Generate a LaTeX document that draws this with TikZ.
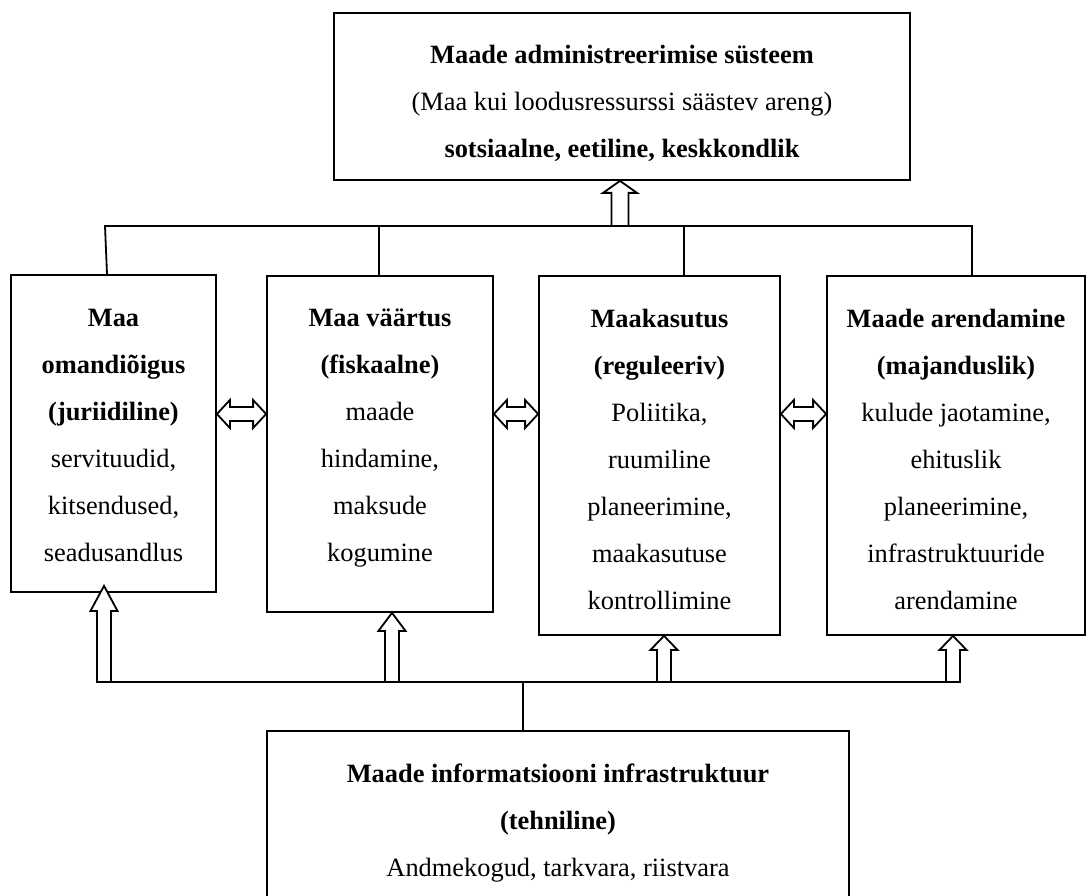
\documentclass[tikz,border=0pt]{standalone}
\usepackage{fontspec}
\setmainfont{Liberation Serif}
\usetikzlibrary{calc}

\tikzset{
  box/.style={draw, line width=1.8pt, inner sep=0pt},
  txt/.style={align=center, inner sep=0pt, font=\fontsize{26.4}{47}\selectfont},
  wire/.style={line width=1.8pt},
  blockarrow/.style={draw, fill=white, line width=1.8pt, line join=miter},
}

% fixed height of the first line and depth of the last line of every text block
\newcommand\firstln{\rule{0pt}{20pt}}
\newcommand\lastln{\rule[-6pt]{0pt}{6pt}}

% hollow upward block arrow: tip, foot, head length, head half width, shaft half width
\newcommand\hollowup[5]{%
  \draw[blockarrow] let \p1=#1, \p2=#2 in
    (\x1,\y1) -- (\x1+#4pt,\y1-#3pt) -- (\x1+#5pt,\y1-#3pt) -- (\x1+#5pt,\y2)
    -- (\x1-#5pt,\y2) -- (\x1-#5pt,\y1-#3pt) -- (\x1-#4pt,\y1-#3pt) -- cycle;}

% hollow two-headed horizontal block arrow: left tip, right tip, head length, head half height, shaft half height
\newcommand\hollowlr[5]{%
  \draw[blockarrow] let \p1=#1, \p2=#2 in
    (\x1,\y1) -- (\x1+#3pt,\y1+#4pt) -- (\x1+#3pt,\y1+#5pt) -- (\x2-#3pt,\y1+#5pt)
    -- (\x2-#3pt,\y1+#4pt) -- (\x2,\y1) -- (\x2-#3pt,\y1-#4pt) -- (\x2-#3pt,\y1-#5pt)
    -- (\x1+#3pt,\y1-#5pt) -- (\x1+#3pt,\y1-#4pt) -- cycle;}

\begin{document}
\begin{tikzpicture}[x=1pt,y=-1pt]
\useasboundingbox (0,0) rectangle (1089,896);
\clip (0,0) rectangle (1089,896);

% frames
\node[box, minimum width=576pt, minimum height=167pt] (sys)  at (622,96.5)  {};
\node[box, minimum width=205pt, minimum height=317pt] (own)  at (113.5,433.5) {};
\node[box, minimum width=226pt, minimum height=336pt] (val)  at (380,444)   {};
\node[box, minimum width=241pt, minimum height=359pt] (use)  at (659.5,455.5) {};
\node[box, minimum width=258pt, minimum height=359pt] (dev)  at (956,455.5) {};
\node[box, minimum width=582pt, minimum height=220pt] (info) at (558,841)   {};

% texts
\node[txt] (sysT) at (622,104) {\firstln\textbf{Maade administreerimise süsteem}\\
  (Maa kui loodusressurssi säästev areng)\\
  \textbf{sotsiaalne, eetiline, keskkondlik}\lastln};
\node[txt] (ownT) at (113.5,436.5) {\firstln\textbf{Maa}\\ \textbf{omandiõigus}\\ \textbf{(juriidiline)}\\
  servituudid,\\ kitsendused,\\ seadusandlus\lastln};
\node[txt] (valT) at (380,436.5) {\firstln\textbf{Maa väärtus}\\ \textbf{(fiskaalne)}\\ maade\\
  hindamine,\\ maksude\\ kogumine\lastln};
\node[txt] (useT) at (659.5,461) {\firstln\textbf{Maakasutus}\\ \textbf{(reguleeriv)}\\ Poliitika,\\
  ruumiline\\ planeerimine,\\ maakasutuse\\ kontrollimine\lastln};
\node[txt] (devT) at (956,461) {\firstln\textbf{Maade arendamine}\\ \textbf{(majanduslik)}\\
  kulude jaotamine,\\ ehituslik\\ planeerimine,\\ infrastruktuuride\\ arendamine\lastln};
\node[txt] (infoT) at (558,822) {\firstln\textbf{Maade informatsiooni infrastruktuur}\\
  \textbf{(tehniline)}\\ Andmekogud, tarkvara, riistvara\lastln};

% upper bus joining the four pillars
\coordinate (busA) at (105,226);
\coordinate (busB) at (379,226);
\coordinate (busC) at (684,226);
\coordinate (busD) at (972,226);
\draw[wire] ($(busA |- own.north)+(2,0)$) -- (busA) -- (busD) -- (busD |- dev.north);
\draw[wire] (busB) -- (busB |- val.north);
\draw[wire] (busC) -- (busC |- use.north);
\coordinate (upTop) at (620,226);
\hollowup{(upTop |- sys.south)}{(upTop)}{12}{17}{8.5}

% lower bus fed by the information infrastructure
\coordinate (feed) at (523,682);
\coordinate (u1) at (104,682);
\coordinate (u2) at (392,682);
\coordinate (u3) at (664,682);
\coordinate (u4) at (953,682);
\draw[wire] ($(u1)+(-7,0)$) -- ($(u4)+(7,0)$);
\draw[wire] (feed) -- (feed |- info.north);
\hollowup{($(u1 |- own.south)+(0,-7)$)}{(u1)}{25}{13.5}{7}
\hollowup{(u2 |- val.south)}{(u2)}{18}{13.5}{7}
\hollowup{(u3 |- use.south)}{(u3)}{14}{13.5}{7}
\hollowup{(u4 |- dev.south)}{(u4)}{14}{13.5}{7}

% links between neighbouring pillars
\coordinate (row) at (0,414);
\hollowlr{(own.east |- row)}{(val.west |- row)}{13}{14}{7}
\hollowlr{(val.east |- row)}{(use.west |- row)}{13}{14}{7}
\hollowlr{(use.east |- row)}{(dev.west |- row)}{13}{14}{7}
\end{tikzpicture}
\end{document}
